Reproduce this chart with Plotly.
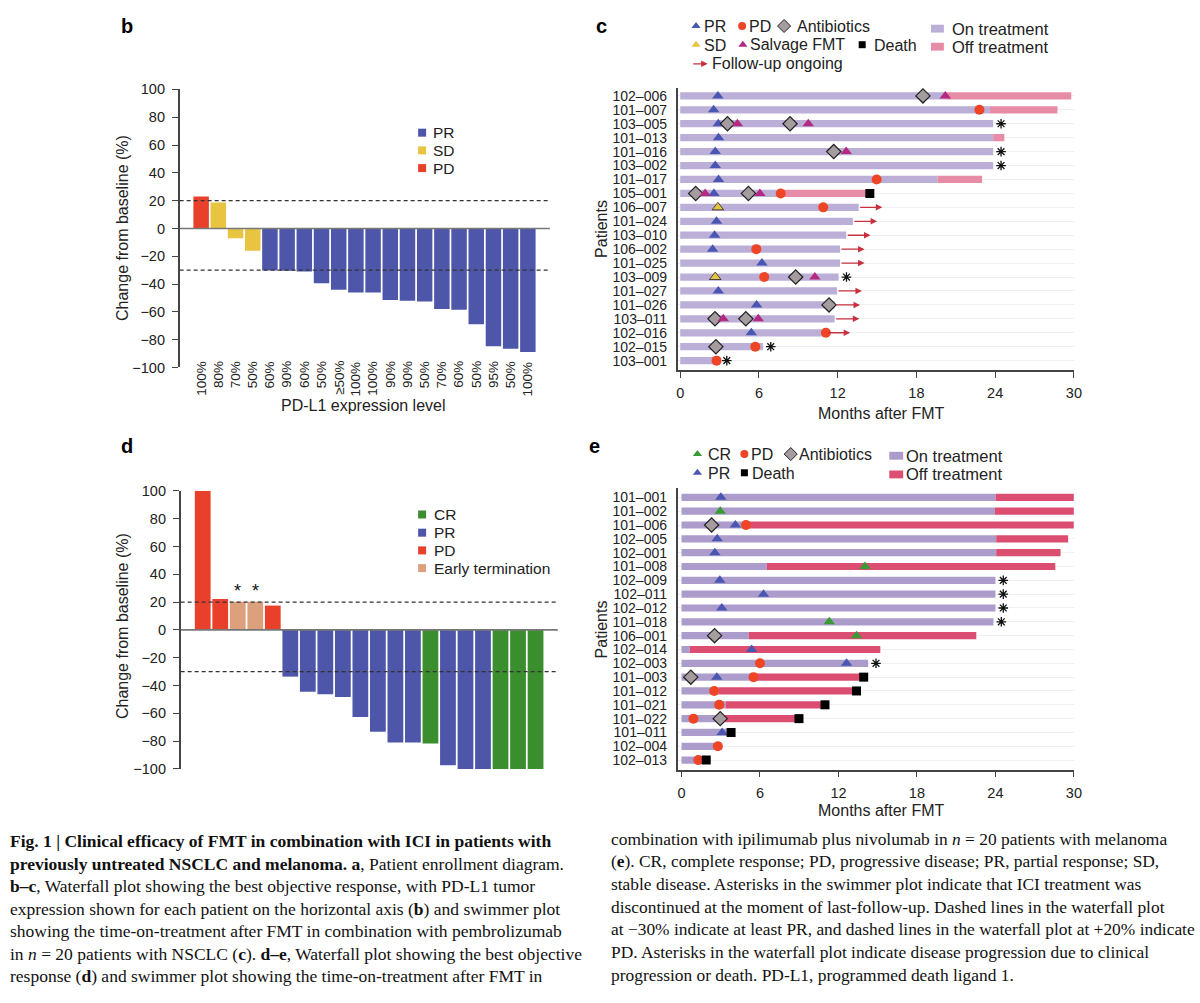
import plotly.graph_objects as go

W, H = 1200, 1003

# ------------------------------------------------------------------ data
# panel b : NSCLC waterfall
b_pdl1 = ["100%", "80%", "70%", "50%", "60%", "90%", "60%", "50%", "≥50%", "100%",
          "100%", "90%", "90%", "50%", "70%", "60%", "50%", "95%", "50%", "100%"]
b_change = [23, 18.6, -7, -16, -30.2, -30.4, -30.9, -39.4, -44.1, -46,
            -46, -51.4, -52.1, -52.6, -58, -58.5, -68.9, -84.7, -86.6, -88.9]
b_response = ["PD", "SD", "SD", "SD"] + ["PR"] * 16

# panel d : melanoma waterfall
d_change = [100, 22.2, 20.3, 20.3, 17.5, -33.6, -44.4, -46.3, -48.2, -62.6,
            -73.3, -80.9, -80.9, -81.6, -97.4, -100, -100, -100, -100, -100]
d_response = ["PD", "PD", "ET", "ET", "PD"] + ["PR"] * 8 + ["CR"] + ["PR"] * 3 + ["CR"] * 3
d_asterisk = [False, False, True, True] + [False] * 16

# panel c : NSCLC swimmer
c_patients = ["102-006", "101-007", "103-005", "101-013", "101-016", "103-002", "101-017",
              "105-001", "106-007", "101-024", "103-010", "106-002", "101-025", "103-009",
              "101-027", "101-026", "103-011", "102-016", "102-015", "103-001"]
c_on_end = [20.2, 23.6, 23.85, 23.85, 23.85, 23.85, 19.6, 7.9, 13.6, 13.16,
            12.65, 12.18, 12.18, 12.07, 11.95, 11.77, 11.77, 11.14, 6.3, 2.95]
c_off_end = [29.8, 28.75, 23.85, 24.7, 23.85, 23.85, 23.0, 14.45, 13.6, 13.16,
             12.65, 12.18, 12.18, 12.07, 11.95, 11.77, 11.77, 11.14, 6.3, 2.95]
c_pr_pat = ["102-006", "101-007", "103-005", "101-013", "101-016", "103-002", "101-017", "105-001",
            "101-024", "103-010", "106-002", "101-025", "101-027", "101-026", "103-011", "102-016", "102-015"]
c_pr_mon = [2.87, 2.55, 2.9, 2.92, 2.67, 2.67, 2.92, 2.57, 2.77, 2.62, 2.47, 6.23, 2.9, 5.82, 2.65, 5.42, 2.72]
c_sd_pat = ["106-007", "103-009"]
c_sd_mon = [2.87, 2.67]
c_pd_pat = ["101-007", "101-017", "105-001", "106-007", "106-002", "103-009", "102-016", "102-015", "103-001"]
c_pd_mon = [22.8, 14.97, 7.66, 10.9, 5.8, 6.4, 11.1, 5.72, 2.77]
c_abx_pat = ["102-006", "103-005", "103-005", "101-016", "105-001", "105-001", "103-009", "101-026",
             "103-011", "103-011", "102-015"]
c_abx_mon = [18.5, 3.6, 8.37, 11.7, 1.18, 5.2, 8.8, 11.34, 2.65, 5.0, 2.72]
c_salv_pat = ["102-006", "103-005", "103-005", "101-016", "105-001", "105-001", "103-009", "103-011", "103-011"]
c_salv_mon = [20.2, 4.36, 9.76, 12.65, 1.9, 6.07, 10.26, 3.28, 5.95]
c_death_pat = ["105-001"]
c_death_mon = [14.45]
c_arrow_pat = ["106-007", "101-024", "103-010", "106-002", "101-025", "101-027", "101-026", "103-011", "102-016"]
c_arrow_end = [15.4, 15.0, 14.5, 14.05, 14.05, 13.85, 13.7, 13.65, 12.95]
c_star_pat = ["103-005", "101-016", "103-002", "103-009", "102-015", "103-001"]

# panel e : melanoma swimmer
e_patients = ["101-001", "101-002", "101-006", "102-005", "102-001", "101-008", "102-009",
              "102-011", "102-012", "101-018", "106-001", "102-014", "102-003", "101-003",
              "101-012", "101-021", "101-022", "101-011", "102-004", "102-013"]
e_on_end = [24.02, 23.96, 5.1, 24.06, 24.06, 6.52, 24.0, 24.0, 24.0, 23.85,
            5.14, 0.63, 14.27, 5.51, 2.85, 3.36, 3.16, 3.5, 3.1, 1.7]
e_off_end = [30.0, 30.0, 30.0, 29.56, 28.98, 28.58, 24.0, 24.0, 24.0, 23.85,
             22.54, 15.2, 14.27, 13.93, 13.38, 10.97, 8.98, 3.79, 3.1, 1.7]
e_cr_pat = ["101-002", "101-008", "101-018", "106-001"]
e_cr_mon = [2.96, 14.03, 11.3, 13.38]
e_pr_pat = ["101-001", "101-006", "102-005", "102-001", "102-009", "102-011", "102-012", "102-014",
            "102-003", "101-003", "101-011"]
e_pr_mon = [3.01, 4.12, 2.73, 2.55, 2.93, 6.27, 3.08, 5.36, 12.62, 2.7, 3.11]
e_pd_pat = ["101-006", "102-003", "101-003", "101-012", "101-021", "101-022", "102-004", "102-013"]
e_pd_mon = [4.93, 6.0, 5.51, 2.5, 2.88, 0.91, 2.78, 1.29]
e_abx_pat = ["101-006", "106-001", "101-003", "101-022"]
e_abx_mon = [2.3, 2.53, 0.71, 2.96]
e_death_pat = ["101-003", "101-012", "101-021", "101-022", "101-011", "102-013"]
e_death_mon = [13.93, 13.38, 10.97, 8.98, 3.79, 1.89]
e_star_pat = ["102-009", "102-011", "102-012", "101-018", "102-003"]

month_ticks = [0, 6, 12, 18, 24, 30]
wf_ticks = list(range(-100, 101, 20))

# ------------------------------------------------------------------ style
FONT = "Liberation Sans, Arial, sans-serif"
CAPFONT = "Liberation Serif, Times New Roman, serif"
TXT = "#222222"
AX = "#444444"
C_PR, C_SD, C_PD, C_CR, C_ET = "#4d56a8", "#e8c440", "#e8402a", "#3b8e2e", "#dda07d"
RESP = {"PR": C_PR, "SD": C_SD, "PD": C_PD, "CR": C_CR, "ET": C_ET}
M_PR, M_CR, M_PD, M_SD = "#4a57b2", "#3a9a35", "#ee4526", "#e8c440"
M_SALV, M_ABX = "#b42a82", "#a59ca0"
C_ON_C, C_OFF_C = "#bbafd7", "#e68ca6"
C_ON_E, C_OFF_E = "#ac9ccb", "#dc4e71"
C_ARROW = "#c8303e"


def fy(py):
    return 1 - py / H


fig = go.Figure()
ann = []
shapes = []

# ------------------------------------------------------------------ waterfalls
for xa, ya, vals, resp in [("x", "y", b_change, b_response),
                           ("x3", "y3", d_change, d_response)]:
    fig.add_trace(go.Bar(x=list(range(len(vals))), y=vals, width=0.9,
                         marker=dict(color=[RESP[r] for r in resp], line=dict(width=0)),
                         xaxis=xa, yaxis=ya, hoverinfo="skip"))
    dom = xa + " domain"
    shapes.append(dict(type="line", xref=dom, yref=ya, x0=0, x1=1, y0=0, y1=0,
                       line=dict(color="#777777", width=1.6), layer="above"))
    for lvl in (20, -30):
        shapes.append(dict(type="line", xref=dom, yref=ya, x0=0, x1=1, y0=lvl, y1=lvl,
                           line=dict(color="#333333", width=1.1, dash="4px,3px"), layer="above"))

# PD-L1 labels under bars (panel b)
for i, lab in enumerate(b_pdl1):
    ann.append(dict(xref="x", yref="y", x=i, y=-94, text=lab, textangle=-90, showarrow=False,
                    xanchor="center", yanchor="top", font=dict(size=13.5, color=TXT, family=FONT)))

# asterisks over early-termination bars (panel d)
for i, flag in enumerate(d_asterisk):
    if flag:
        ann.append(dict(xref="x3", yref="y3", x=i, y=d_change[i] + 10, text="*", showarrow=False,
                        font=dict(size=18, color="#111", family=FONT), yshift=-3))


# ------------------------------------------------------------------ swimmers
def swimmer(xa, ya, patients, on_end, off_end, c_on, c_off, events, deaths, stars):
    row = {p: i for i, p in enumerate(patients)}
    ys = list(range(len(patients)))
    fig.add_trace(go.Bar(orientation="h", y=ys, x=on_end, base=[0] * len(ys), width=0.52,
                         marker=dict(color=c_on, line=dict(width=0)), xaxis=xa, yaxis=ya, hoverinfo="skip"))
    fig.add_trace(go.Bar(orientation="h", y=ys, x=[b - a for a, b in zip(on_end, off_end)], base=on_end,
                         width=0.52, marker=dict(color=c_off, line=dict(width=0)),
                         xaxis=xa, yaxis=ya, hoverinfo="skip"))
    for pats, mons, sym, col, size, lw in events:
        fig.add_trace(go.Scatter(x=mons, y=[row[p] for p in pats], mode="markers",
                                 marker=dict(symbol=sym, color=col, size=size,
                                             line=dict(color="#222", width=lw)),
                                 xaxis=xa, yaxis=ya, hoverinfo="skip"))
    pats, mons = deaths
    fig.add_trace(go.Scatter(x=mons, y=[row[p] for p in pats], mode="markers",
                             marker=dict(symbol="square", color="#000", size=9, line=dict(width=0)),
                             xaxis=xa, yaxis=ya, hoverinfo="skip"))
    # asterisks: ICI discontinued at last follow-up
    sx = [off_end[row[p]] + 0.6 for p in stars]
    sy = [row[p] for p in stars]
    fig.add_trace(go.Scatter(x=sx, y=sy, mode="markers",
                             marker=dict(symbol="asterisk-open", size=8, color="#111",
                                         line=dict(color="#111", width=1.3)),
                             xaxis=xa, yaxis=ya, hoverinfo="skip"))
    return row


row_c = swimmer("x2", "y2", c_patients, c_on_end, c_off_end, C_ON_C, C_OFF_C,
                [(c_pr_pat, c_pr_mon, "triangle-up", M_PR, 10, 0),
                 (c_sd_pat, c_sd_mon, "triangle-up", M_SD, 10, 0.8),
                 (c_pd_pat, c_pd_mon, "circle", M_PD, 10, 0),
                 (c_abx_pat, c_abx_mon, "diamond", M_ABX, 11, 1.2),
                 (c_salv_pat, c_salv_mon, "triangle-up", M_SALV, 10, 0)],
                (c_death_pat, c_death_mon), c_star_pat)
for p, end in zip(c_arrow_pat, c_arrow_end):
    i = row_c[p]
    ann.append(dict(xref="x2", yref="y2", axref="x2", ayref="y2", x=end, y=i, ax=c_on_end[i], ay=i,
                    text="", showarrow=True, arrowhead=2, arrowsize=1, arrowwidth=1.3,
                    arrowcolor=C_ARROW, standoff=0, startstandoff=0))

swimmer("x4", "y4", e_patients, e_on_end, e_off_end, C_ON_E, C_OFF_E,
        [(e_pr_pat, e_pr_mon, "triangle-up", M_PR, 10, 0),
         (e_cr_pat, e_cr_mon, "triangle-up", M_CR, 10, 0),
         (e_pd_pat, e_pd_mon, "circle", M_PD, 10, 0),
         (e_abx_pat, e_abx_mon, "diamond", M_ABX, 11, 1.2)],
        (e_death_pat, e_death_mon), e_star_pat)


# ------------------------------------------------------------------ legends (pixel overlay axis)
def lg_marker(x, y, sym, col, size, lw=0):
    fig.add_trace(go.Scatter(x=[x], y=[y], mode="markers", xaxis="x5", yaxis="y5", hoverinfo="skip",
                             marker=dict(symbol=sym, color=col, size=size, line=dict(color="#222", width=lw))))


def lg_text(x, y, text, size=16):
    ann.append(dict(xref="x5", yref="y5", x=x, y=y, text=text, showarrow=False, xanchor="left",
                    yanchor="middle", font=dict(size=size, color=TXT, family=FONT)))


def lg_rect(x0, x1, yc, hgt, col):
    shapes.append(dict(type="rect", xref="x5", yref="y5", x0=x0, x1=x1, y0=yc - hgt / 2, y1=yc + hgt / 2,
                       fillcolor=col, line=dict(width=0)))


# b legend
for yy, lab in zip([126.7, 144.7, 162.7], ["PR", "SD", "PD"]):
    lg_marker(424.3, yy, "square", RESP[lab], 8)
    lg_text(433, yy, lab, 15.5)
# d legend
for yy, key, lab in zip([514.7, 533.2, 551.2, 569.2], ["CR", "PR", "PD", "ET"],
                        ["CR", "PR", "PD", "Early termination"]):
    lg_marker(424.3, yy, "square", RESP[key], 8)
    lg_text(434, yy, lab, 15.5)
# c legend
lg_marker(700.3, 18.3, "triangle-up", M_PR, 8); lg_text(706, 19, "PR")
lg_marker(746.7, 18.3, "circle", M_PD, 8); lg_text(752, 19, "PD")
lg_marker(789, 18.3, "diamond", M_ABX, 10, 1); lg_text(800, 18.3, "Antibiotics")
lg_marker(700.3, 37.3, "triangle-up", M_SD, 8); lg_text(706, 38, "SD")
lg_marker(747.5, 37.3, "triangle-up", M_SALV, 8); lg_text(753, 37.3, "Salvage FMT")
lg_marker(867.7, 37.3, "square", "#000", 7); lg_text(878, 38, "Death")
ann.append(dict(xref="x5", yref="y5", axref="x5", ayref="y5", x=712, y=56.7, ax=696, ay=56.7, text="",
                showarrow=True, arrowhead=2, arrowsize=1, arrowwidth=1.3, arrowcolor=C_ARROW, standoff=0))
lg_text(714, 56.7, "Follow-up ongoing")
lg_rect(937, 950, 21, 8, C_ON_C); lg_text(956, 21, "On treatment", 16.5)
lg_rect(937, 950, 39.3, 8, C_OFF_C); lg_text(956, 39.3, "Off treatment", 16.5)
# e legend
lg_marker(701.7, 453.3, "triangle-up", M_CR, 8); lg_text(710, 454, "CR")
lg_marker(749, 453.3, "circle", M_PD, 8); lg_text(753.5, 454, "PD")
lg_marker(795.7, 453.3, "diamond", M_ABX, 10, 1); lg_text(802, 453.3, "Antibiotics")
lg_marker(701.7, 472.3, "triangle-up", M_PR, 8); lg_text(710, 473, "PR")
lg_marker(749, 472.3, "square", "#000", 7); lg_text(755, 473, "Death")
lg_rect(895, 909, 455, 8, C_ON_E); lg_text(910, 455, "On treatment", 16.5)
lg_rect(895, 909, 474, 8, C_OFF_E); lg_text(910, 474, "Off treatment", 16.5)


# ------------------------------------------------------------------ titles / panel letters
def ptext(x, y, text, size, angle=0, bold=False, xanchor="center", family=FONT, color=TXT):
    ann.append(dict(xref="x5", yref="y5", x=x, y=y, text=("<b>%s</b>" % text) if bold else text,
                    showarrow=False, textangle=angle, xanchor=xanchor, yanchor="middle",
                    font=dict(size=size, color=color, family=family)))


for x, y, t in [(119, 18, "b"), (597, 18, "c"), (119, 445, "d"), (590, 445, "e")]:
    ptext(x, y, t, 20, bold=True, xanchor="left", color="#000")
ptext(123, 223.5, "Change from baseline (%)", 16, angle=-90)
ptext(365, 404, "PD-L1 expression level", 16)
ptext(123, 628, "Change from baseline (%)", 16, angle=-90)
ptext(605, 224, "Patients", 16, angle=-90)
ptext(887, 412, "Months after FMT", 16)
ptext(605, 631, "Patients", 16, angle=-90)
ptext(887, 816, "Months after FMT", 16)

# ------------------------------------------------------------------ caption
cap_left = [
    "<b>Fig. 1 | Clinical efficacy of FMT in combination with ICI in patients with</b>",
    "<b>previously untreated NSCLC and melanoma. a</b>, Patient enrollment diagram.",
    "<b>b–c</b>, Waterfall plot showing the best objective response, with PD-L1 tumor",
    "expression shown for each patient on the horizontal axis (<b>b</b>) and swimmer plot",
    "showing the time-on-treatment after FMT in combination with pembrolizumab",
    "in <i>n</i> = 20 patients with NSCLC (<b>c</b>). <b>d–e</b>, Waterfall plot showing the best objective",
    "response (<b>d</b>) and swimmer plot showing the time-on-treatment after FMT in",
]
cap_right = [
    "combination with ipilimumab plus nivolumab in <i>n</i> = 20 patients with melanoma",
    "(<b>e</b>). CR, complete response; PD, progressive disease; PR, partial response; SD,",
    "stable disease. Asterisks in the swimmer plot indicate that ICI treatment was",
    "discontinued at the moment of last-follow-up. Dashed lines in the waterfall plot",
    "at −30% indicate at least PR, and dashed lines in the waterfall plot at +20% indicate",
    "PD. Asterisks in the waterfall plot indicate disease progression due to clinical",
    "progression or death. PD-L1, programmed death ligand 1.",
]
for k, line in enumerate(cap_left):
    ptext(7, 847 + 22.8 * k, line, 17.5, xanchor="left", family=CAPFONT, color="#111")
for k, line in enumerate(cap_right):
    ptext(613, 844 + 23.1 * k, line, 17.4, xanchor="left", family=CAPFONT, color="#111")


# ------------------------------------------------------------------ axes
def wf_y(domain, anchor):
    return dict(domain=domain, range=[-100, 100], tickvals=wf_ticks, ticks="outside", ticklen=6,
                tickwidth=1.2, tickcolor=AX, showline=True, linecolor=AX, linewidth=1.5, showgrid=False,
                zeroline=False, tickfont=dict(size=14.5, color=TXT, family=FONT), anchor=anchor,
                ticklabelstandoff=4, fixedrange=True)


def wf_x(domain, rng, anchor):
    return dict(domain=domain, range=rng, showticklabels=False, ticks="", showline=False, showgrid=False,
                zeroline=False, anchor=anchor, fixedrange=True)


def sw_x(domain, rng, anchor):
    return dict(domain=domain, range=rng, tickvals=month_ticks, ticks="outside", ticklen=6, tickwidth=1.2,
                tickcolor=AX, showline=True, linecolor=AX, linewidth=1.5, showgrid=False, zeroline=False,
                tickfont=dict(size=14.5, color=TXT, family=FONT), anchor=anchor, ticklabelstandoff=3,
                fixedrange=True)


def sw_y(domain, rng, labels, anchor):
    return dict(domain=domain, range=rng, tickvals=list(range(len(labels))),
                ticktext=[s.replace("-", "–") for s in labels], ticks="", showline=True, linecolor=AX,
                linewidth=1.5, showgrid=True, gridcolor="#efefef", gridwidth=1, zeroline=False,
                tickfont=dict(size=14, color=TXT, family=FONT), anchor=anchor, ticklabelstandoff=6,
                fixedrange=True)


fig.update_layout(
    width=W, height=H, margin=dict(l=0, r=0, t=0, b=0, pad=0),
    paper_bgcolor="white", plot_bgcolor="rgba(0,0,0,0)", showlegend=False, barmode="overlay",
    font=dict(family=FONT, color=TXT),
    xaxis=wf_x([180 / W, 553 / W], [-1.25, 20.28], "y"),
    yaxis=wf_y([fy(365.3), fy(82.7)], "x"),
    xaxis2=sw_x([681.7 / W, 1081 / W], [-0.2, 30], "y2"),
    yaxis2=sw_y([fy(367.7), fy(81)], [19.66, -0.586], c_patients, "x2"),
    xaxis3=wf_x([181 / W, 561 / W], [-1.26, 20.27], "y3"),
    yaxis3=wf_y([fy(773.3), fy(490.7)], "x3"),
    xaxis4=sw_x([681.7 / W, 1081 / W], [-0.3, 30], "y4"),
    yaxis4=sw_y([fy(774), fy(488)], [19.69, -0.66], e_patients, "x4"),
    xaxis5=dict(domain=[0, 1], range=[0, W], visible=False, fixedrange=True, anchor="y5"),
    yaxis5=dict(domain=[0, 1], range=[H, 0], visible=False, fixedrange=True, anchor="x5"),
    annotations=ann, shapes=shapes,
)

fig.write_html("out.html", config={"displayModeBar": False},
               post_script="document.body.style.margin='0';document.body.style.overflow='hidden';")
